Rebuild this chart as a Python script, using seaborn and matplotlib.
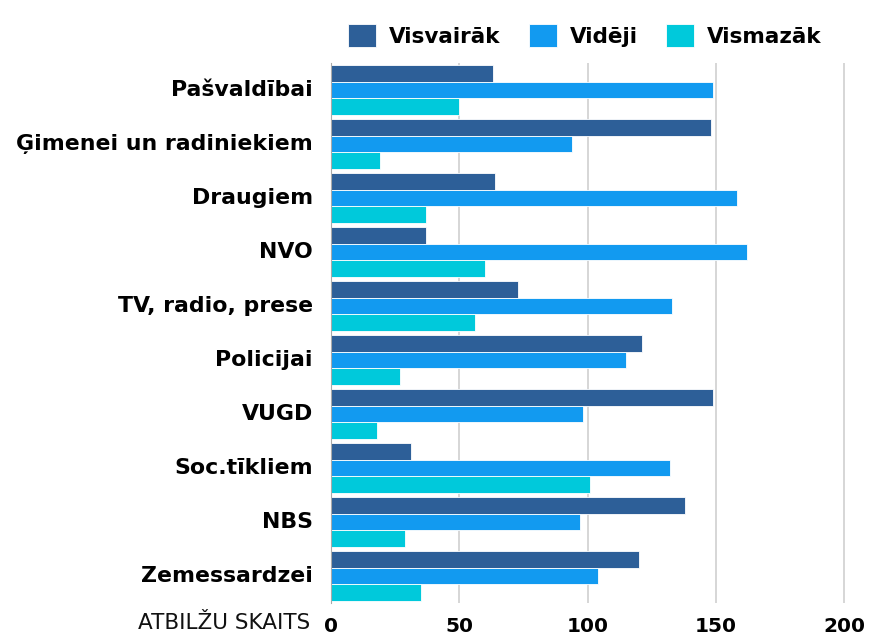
import pandas as pd
import numpy as np
import seaborn as sns
import matplotlib.pyplot as plt

# Dati no attēla
kategorijas = ["Pašvaldībai", "Ģimenei un radiniekiem", "Draugiem", "NVO",
               "TV, radio, prese", "Policijai", "VUGD", "Soc.tīkliem", "NBS",
               "Zemessardzei"]
visvairak = [63, 148, 64, 37, 73, 121, 149, 31, 138, 120]
videji = [149, 94, 158, 162, 133, 115, 98, 132, 97, 104]
vismazak = [50, 19, 37, 60, 56, 27, 18, 101, 29, 35]
serijas = ["Visvairāk", "Vidēji", "Vismazāk"]
krasas = ["#2D5F98", "#129AF0", "#00C9DB"]

df = pd.DataFrame({
    "kategorija": kategorijas * 3,
    "vertiba": visvairak + videji + vismazak,
    "serija": np.repeat(serijas, len(kategorijas)),
})

sns.set_style("white")
plt.rcParams["font.family"] = ["DejaVu Sans"]
plt.rcParams["text.color"] = "black"
plt.rcParams["xtick.color"] = "black"
plt.rcParams["ytick.color"] = "black"

fig = plt.figure(figsize=(8.7, 6.37), dpi=100)
ax = fig.add_axes([0.3805, 0.0534, 0.6195, 0.8477])

sns.barplot(data=df, y="kategorija", x="vertiba", hue="serija",
            palette=krasas, order=kategorijas, hue_order=serijas,
            width=0.94, orient="h", ax=ax, saturation=1,
            edgecolor="white", linewidth=0.6)

ax.set_xlim(0, 210)
ax.set_ylim(len(kategorijas) - 0.5, -0.5)
ax.set_xticks([0, 50, 100, 150, 200])
ax.xaxis.grid(True, color="#D0D0D0", linewidth=1.2)
ax.set_axisbelow(True)
for s in ["top", "right", "bottom"]:
    ax.spines[s].set_visible(False)
ax.spines["left"].set_color("#AAAAAA")
ax.set_xlabel("")
ax.set_ylabel("")
ax.tick_params(axis="both", length=0)
ax.tick_params(axis="y", pad=13)
ax.tick_params(axis="x", pad=10)
for t in ax.get_yticklabels():
    t.set_fontweight("bold")
    t.set_fontsize(15.8)
    t.set_va("center")
for t in ax.get_xticklabels():
    t.set_fontweight("bold")
    t.set_fontsize(14.5)

fig.text(0.357, 0.022, "ATBILŽU SKAITS", ha="right", va="center",
         fontsize=15.5, family="Liberation Sans Narrow", color="#111111")

h, l = ax.get_legend_handles_labels()
ax.legend_.remove()
leg = fig.legend(h, l, loc="center", bbox_to_anchor=(0.672, 0.944), ncol=3,
                 frameon=False, handlelength=1.3, handleheight=1.3,
                 columnspacing=1.3, handletextpad=0.6,
                 prop={"weight": "bold", "size": 15.5})

fig.savefig("out.png", dpi=100)
